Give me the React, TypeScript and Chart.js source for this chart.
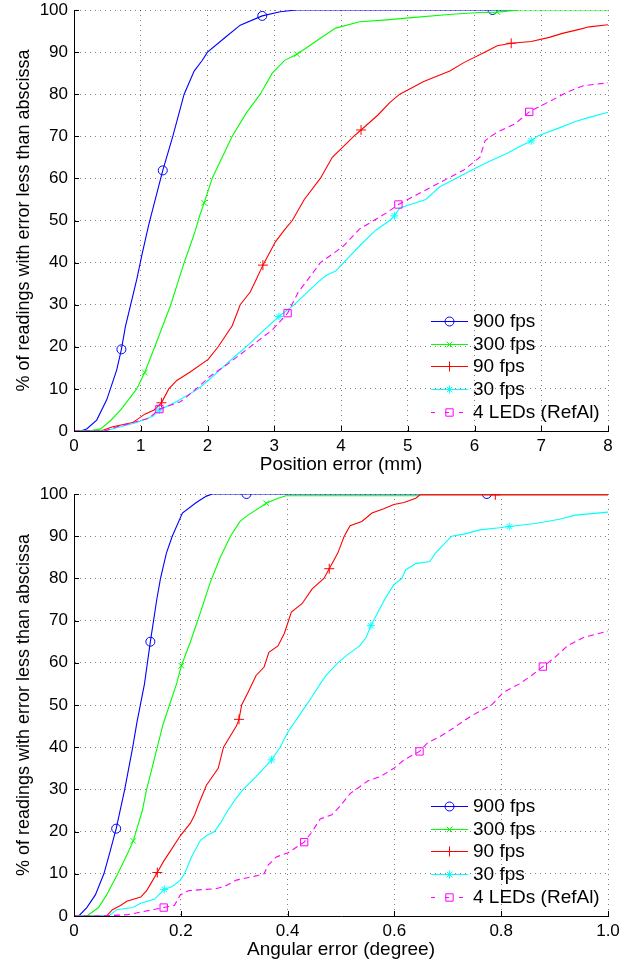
import React, { useEffect, useRef } from 'react';
import { Chart, registerables } from 'chart.js';
import { drawPoint } from 'chart.js/helpers';

Chart.register(...registerables);

// ---------- Data: Position error (mm) ----------
const pos900X = [0, 0.1, 0.19, 0.34, 0.49, 0.64, 0.71, 0.77, 0.94, 1.02, 1.12, 1.33, 1.48, 1.65, 1.8, 1.92, 2.0, 2.25, 2.49, 2.82, 3.09, 3.33, 6.27, 6.65];
const pos900Y = [0, 0, 0.5, 2.6, 7.4, 14.5, 19.4, 24.8, 36, 42, 49, 61.9, 70, 80, 85.5, 88, 90, 93.3, 96.4, 98.6, 99.6, 100, 100, 100];
const pos900M = [0.71, 1.33, 2.82, 6.27];

const pos300X = [0, 0.22, 0.4, 0.55, 0.7, 0.82, 0.94, 1.06, 1.21, 1.33, 1.45, 1.55, 1.65, 1.74, 1.82, 1.88, 1.95, 2.07, 2.22, 2.37, 2.58, 2.79, 2.97, 3.16, 3.34, 3.5, 3.69, 3.92, 4.28, 4.64, 5.06, 5.66, 6.08, 6.34, 6.67, 8];
const pos300Y = [0, 0, 0.5, 2.5, 5, 7.5, 10, 13.9, 20, 25, 30, 35, 40, 44, 47.7, 51, 54.2, 60, 65, 70, 75.5, 80, 85, 88.1, 89.5, 91.2, 93.3, 95.7, 97.2, 97.6, 98.2, 99, 99.4, 99.5, 100, 100];
const pos300M = [1.06, 1.95, 3.34, 6.34];

const pos90X = [0, 0.4, 0.58, 0.88, 1.06, 1.2, 1.31, 1.42, 1.54, 1.74, 2.01, 2.16, 2.37, 2.49, 2.64, 2.73, 2.83, 3.02, 3.15, 3.27, 3.45, 3.69, 3.87, 4.19, 4.3, 4.55, 4.73, 4.88, 5.24, 5.63, 5.84, 6.16, 6.34, 6.55, 6.85, 7.12, 7.33, 7.57, 7.72, 8];
const pos90Y = [0, 0, 1, 2, 4, 5, 6.7, 10, 12, 14, 17, 20, 25, 30, 33, 36, 39.4, 45, 47.7, 50, 55, 60, 65, 70, 71.5, 75, 78, 80, 83, 85.5, 87.5, 90, 91.5, 92.1, 92.5, 93.5, 94.5, 95.4, 96, 96.5];
const pos90M = [1.31, 2.83, 4.3, 6.55];

const pos30X = [0, 0.46, 0.7, 0.94, 1.18, 1.28, 1.54, 1.86, 2.01, 2.22, 2.43, 2.58, 2.85, 3.07, 3.3, 3.63, 3.78, 3.92, 4.04, 4.28, 4.52, 4.73, 4.8, 4.88, 5.27, 5.48, 5.72, 5.96, 6.22, 6.49, 6.67, 6.85, 6.94, 7.27, 7.51, 7.72, 8];
const pos30Y = [0, 0, 1, 2, 3.5, 5, 7, 10, 12, 15, 18, 20, 24, 27.2, 30, 35, 37, 38, 40, 44, 47.7, 50, 51.1, 53, 55, 58, 60, 62, 64, 66, 67.5, 68.9, 70, 72, 73.5, 74.5, 75.7];
const pos30M = [1.28, 3.07, 4.8, 6.85];

const posLedX = [0, 0.46, 0.64, 0.88, 1.12, 1.28, 1.6, 1.83, 2.04, 2.31, 2.64, 2.97, 3.2, 3.36, 3.6, 3.69, 3.87, 4.04, 4.1, 4.28, 4.49, 4.7, 4.86, 5.12, 5.36, 5.6, 5.84, 6.08, 6.16, 6.34, 6.61, 6.82, 7.09, 7.39, 7.63, 8];
const posLedY = [0, 0, 1, 2, 3, 5.2, 7, 10, 13, 16, 20, 24, 28, 33, 38, 40, 42, 44, 45, 48, 50, 52, 53.8, 56, 58, 60, 62, 65, 69, 71, 73, 75.8, 78, 80.5, 82, 82.7];
const posLedM = [1.28, 3.2, 4.86, 6.82];

// ---------- Data: Angular error (degree) ----------
const ang900X = [0, 0.009, 0.024, 0.04, 0.056, 0.067, 0.079, 0.095, 0.11, 0.118, 0.132, 0.143, 0.155, 0.162, 0.173, 0.184, 0.203, 0.229, 0.248, 0.259, 0.323, 0.773, 1];
const ang900Y = [0, 0, 2, 5, 10, 15, 20.7, 30, 40, 46, 55, 65, 75, 80, 86, 90, 95.5, 98, 99.5, 100, 100, 100, 100];
const ang900M = [0.079, 0.143, 0.323, 0.773];

const ang300X = [0, 0.024, 0.046, 0.061, 0.082, 0.101, 0.111, 0.128, 0.136, 0.146, 0.156, 0.167, 0.192, 0.201, 0.218, 0.237, 0.255, 0.274, 0.293, 0.311, 0.326, 0.36, 0.382, 0.397, 0.645, 0.65, 1];
const ang300Y = [0, 0, 2, 5, 10, 15, 17.8, 25, 30, 35, 40, 45.5, 55, 59.3, 65, 72, 79, 85, 90, 93.5, 95, 97.8, 99, 99.6, 99.6, 100, 100];
const ang300M = [0.111, 0.201, 0.36];

const ang90X = [0, 0.061, 0.072, 0.087, 0.099, 0.125, 0.136, 0.143, 0.156, 0.168, 0.181, 0.199, 0.218, 0.226, 0.235, 0.248, 0.27, 0.28, 0.304, 0.309, 0.314, 0.326, 0.341, 0.356, 0.365, 0.382, 0.394, 0.407, 0.427, 0.446, 0.468, 0.478, 0.494, 0.506, 0.517, 0.539, 0.558, 0.58, 0.599, 0.618, 0.64, 0.648, 0.789, 1];
const ang90Y = [0, 0, 1.5, 2.5, 3.5, 4.5, 6, 7.5, 10.3, 13, 15.5, 19, 22, 24, 27, 31, 35, 40, 45, 46.6, 50, 53, 57, 59, 62.5, 64, 67, 72, 74, 77.5, 80, 82.3, 86, 90, 92.5, 93.5, 95.5, 96.5, 97.5, 98, 99, 99.8, 99.8, 99.8];
const ang90M = [0.156, 0.309, 0.478, 0.789];

const ang30X = [0, 0.065, 0.08, 0.11, 0.125, 0.151, 0.169, 0.184, 0.199, 0.207, 0.22, 0.237, 0.248, 0.263, 0.274, 0.288, 0.304, 0.317, 0.341, 0.37, 0.386, 0.4, 0.427, 0.446, 0.461, 0.472, 0.494, 0.513, 0.535, 0.547, 0.556, 0.569, 0.584, 0.599, 0.614, 0.621, 0.64, 0.666, 0.677, 0.692, 0.707, 0.73, 0.76, 0.797, 0.815, 0.864, 0.909, 0.939, 1];
const ang30Y = [0, 0, 1.5, 2, 3, 4, 6.3, 7, 8.5, 10, 14, 18, 19, 20, 22, 25, 28, 30, 33, 37, 40, 43.5, 48.5, 52, 55, 57, 60, 62, 64, 66, 68.8, 72, 75.5, 78.5, 80, 82, 83.5, 84, 86, 88, 90, 90.5, 91.5, 92, 92.3, 93, 94, 95, 95.7];
const ang30M = [0.169, 0.37, 0.556, 0.815];

const angLedX = [0, 0.05, 0.1, 0.128, 0.168, 0.188, 0.199, 0.214, 0.267, 0.282, 0.304, 0.341, 0.356, 0.363, 0.379, 0.401, 0.431, 0.446, 0.461, 0.483, 0.498, 0.517, 0.55, 0.573, 0.599, 0.618, 0.647, 0.662, 0.685, 0.71, 0.745, 0.782, 0.804, 0.834, 0.857, 0.878, 0.898, 0.924, 0.954, 1];
const angLedY = [0, 0, 0.3, 1, 2, 2.5, 5, 6, 6.5, 7, 8.5, 9.5, 10, 12, 14, 15, 17.5, 20, 23, 24, 26, 29, 32, 33, 35, 37, 39, 41, 42.5, 44.5, 47.5, 50, 53, 55, 57, 59.1, 61, 64, 66, 67.5];
const angLedM = [0.168, 0.431, 0.647, 0.878];

const labels = ['900 fps', '300 fps', '90 fps', '30 fps', '4 LEDs (RefAl)'];
const colors = ['#0000ff', '#00ff00', '#ff0000', '#00ffff', '#ff00ff'];
const styles = ['circle', 'crossRot', 'cross', 'star', 'rect'];
const radii = [4.5, 4, 5, 4, 5.2];
const yTicks = [0, 10, 20, 30, 40, 50, 60, 70, 80, 90, 100];

const FONT = '"Liberation Sans", Arial, Helvetica, sans-serif';

function makeDataset(i: number, xs: number[], ys: number[], marks: number[]) {
  const dashed = i === 4;
  return {
    label: labels[i],
    data: xs.map((x, k) => ({ x, y: ys[k] })),
    borderColor: colors[i],
    borderWidth: 1.1,
    borderDash: dashed ? [6, 4] : [],
    pointStyle: styles[i],
    pointRadius: xs.map((x) => (marks.includes(x) ? radii[i] : 0)),
    pointHoverRadius: 0,
    pointBorderColor: colors[i],
    pointBackgroundColor: 'rgba(0,0,0,0)',
    pointBorderWidth: 1,
    tension: 0,
    fill: false,
    order: 10 - i,
  };
}

const insideLegend = {
  id: 'insideLegend',
  afterDraw(chart: any) {
    const { ctx, chartArea } = chart;
    const n = labels.length;
    const rowH = 22.8;
    const x0 = chartArea.right - 177;
    const lineLen = 37;
    const lastY = chartArea.bottom - 19;
    ctx.save();
    for (let i = 0; i < n; i++) {
      const y = Math.round(lastY - (n - 1 - i) * rowH) + 0.5;
      ctx.strokeStyle = colors[i];
      ctx.lineWidth = 1.1;
      ctx.setLineDash(i === 4 ? [4, 10] : []);
      ctx.beginPath();
      ctx.moveTo(x0, y);
      ctx.lineTo(x0 + lineLen, y);
      ctx.stroke();
      ctx.setLineDash([]);
      ctx.lineWidth = 1;
      ctx.strokeStyle = colors[i];
      ctx.fillStyle = 'rgba(0,0,0,0)';
      drawPoint(ctx, { pointStyle: styles[i], radius: radii[i], borderWidth: 1, rotation: 0 } as any, x0 + lineLen / 2, y);
      ctx.fillStyle = '#000';
      ctx.font = `19px ${FONT}`;
      ctx.textBaseline = 'middle';
      ctx.textAlign = 'left';
      ctx.fillText(labels[i], x0 + lineLen + 5, y);
    }
    ctx.restore();
  },
};

const innerTicks = {
  id: 'innerTicks',
  afterDatasetsDraw(chart: any) {
    const { ctx, chartArea, scales } = chart;
    ctx.save();
    ctx.strokeStyle = '#000';
    ctx.lineWidth = 1;
    ctx.beginPath();
    scales.x.ticks.forEach((t: any) => {
      const px = Math.round(scales.x.getPixelForValue(t.value)) + 0.5;
      ctx.moveTo(px, chartArea.bottom);
      ctx.lineTo(px, chartArea.bottom - 5);
    });
    scales.y.ticks.forEach((t: any) => {
      const py = Math.round(scales.y.getPixelForValue(t.value)) + 0.5;
      ctx.moveTo(chartArea.left, py);
      ctx.lineTo(chartArea.left + 5, py);
    });
    ctx.stroke();
    ctx.restore();
  },
};

function makeConfig(datasets: any[], xMax: number, xStep: number, xTitle: string, padTop: number, xAxisH: number, xTitlePad: number) {
  const grid = { color: 'rgba(0,0,0,0.5)', lineWidth: 1, drawTicks: false };
  return {
    type: 'line',
    data: { datasets },
    plugins: [innerTicks, insideLegend],
    options: {
      animation: false,
      responsive: false,
      events: [],
      layout: { padding: { top: padTop, right: 18, left: 0, bottom: 0 } },
      plugins: { legend: { display: false }, tooltip: { enabled: false } },
      scales: {
        x: {
          type: 'linear',
          min: 0,
          max: xMax,
          grid,
          border: { display: true, color: '#000', width: 1, dash: [1, 4] },
          ticks: { stepSize: xStep, color: '#000', padding: 5, font: { family: FONT, size: 17 } },
          title: { display: true, text: xTitle, color: '#000', font: { family: FONT, size: 19 }, padding: { top: 0, bottom: xTitlePad } },
          afterFit: (s: any) => { s.height = xAxisH; s.paddingLeft = 0; s.paddingRight = 0; },
        },
        y: {
          type: 'linear',
          min: 0,
          max: 100,
          grid,
          border: { display: true, color: '#000', width: 1, dash: [1, 4] },
          afterBuildTicks: (s: any) => { s.ticks = yTicks.map((v) => ({ value: v })); },
          ticks: { color: '#000', padding: 6, font: { family: FONT, size: 17 } },
          title: { display: true, text: '% of readings with error less than abscissa', color: '#000', font: { family: FONT, size: 18 }, padding: { top: 13, bottom: 0 } },
          afterFit: (s: any) => { s.width = 74; s.paddingTop = 0; s.paddingBottom = 0; },
        },
      },
    },
  };
}

export default function App() {
  const topRef = useRef<HTMLCanvasElement>(null);
  const botRef = useRef<HTMLCanvasElement>(null);

  useEffect(() => {
    const top = new Chart(topRef.current as HTMLCanvasElement, makeConfig([
      makeDataset(0, pos900X, pos900Y, pos900M),
      makeDataset(1, pos300X, pos300Y, pos300M),
      makeDataset(2, pos90X, pos90Y, pos90M),
      makeDataset(3, pos30X, pos30Y, pos30M),
      makeDataset(4, posLedX, posLedY, posLedM),
    ], 8, 1, 'Position error (mm)', 10, 51, 6) as any);
    const bot = new Chart(botRef.current as HTMLCanvasElement, makeConfig([
      makeDataset(0, ang900X, ang900Y, ang900M),
      makeDataset(1, ang300X, ang300Y, ang300M),
      makeDataset(2, ang90X, ang90Y, ang90M),
      makeDataset(3, ang30X, ang30Y, ang30M),
      makeDataset(4, angLedX, angLedY, angLedM),
    ], 1, 0.2, 'Angular error (degree)', 12, 48, 3) as any);
    return () => { top.destroy(); bot.destroy(); };
  }, []);

  return (
    <div style={{ position: 'absolute', left: 0, top: 0, width: 626, height: 964, background: '#fff' }}>
      <canvas ref={topRef} width={626} height={482} style={{ position: 'absolute', left: 0, top: 0, width: 626, height: 482 }} />
      <canvas ref={botRef} width={626} height={482} style={{ position: 'absolute', left: 0, top: 482, width: 626, height: 482 }} />
    </div>
  );
}
